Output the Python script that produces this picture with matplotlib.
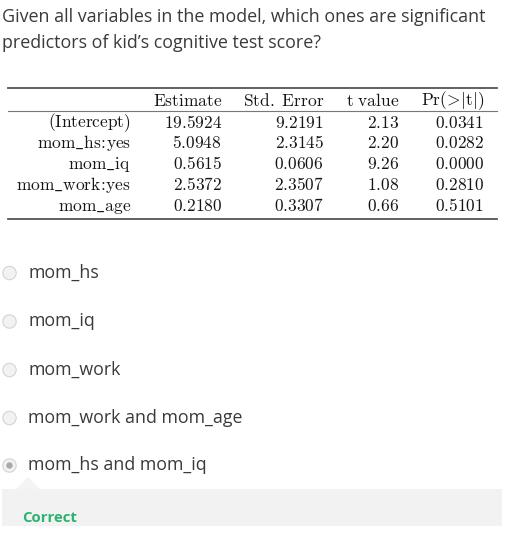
import matplotlib
matplotlib.use("Agg")
import matplotlib.pyplot as plt
import matplotlib.patches as mpatches

question = ["Given all variables in the model, which ones are significant",
            "predictors of kid\u2019s cognitive test score?"]

col_headers = [r"$\mathrm{Estimate}$", r"$\mathrm{Std.\ Error}$",
               r"$\mathrm{t\ value}$", r"$\mathrm{Pr}(\!>\!|\mathrm{t}|)$"]
row_labels = ["(Intercept)", r"mom\_hs\!:\!yes", r"mom\_iq", r"mom\_work\!:\!yes", r"mom\_age"]
estimates = ["19.5924", "5.0948", "0.5615", "2.5372", "0.2180"]
std_errors = ["9.2191", "2.3145", "0.0606", "2.3507", "0.3307"]
t_values = ["2.13", "2.20", "9.26", "1.08", "0.66"]
p_values = ["0.0341", "0.0282", "0.0000", "0.2810", "0.5101"]

options = ["mom_hs", "mom_iq", "mom_work", "mom_work and mom_age", "mom_hs and mom_iq"]
selected = 4
feedback = "Correct"

plt.rcParams["mathtext.fontset"] = "cm"

W, H = 519, 536
fig = plt.figure(figsize=(W / 100, H / 100), dpi=100)
ax = fig.add_axes([0, 0, 1, 1])
ax.set_xlim(0, W)
ax.set_ylim(H, 0)
ax.axis("off")

txt_color = "#3a3a3a"

# question
for i, line in enumerate(question):
    ax.text(2, 17 + i * 26.5, line, family="Open Sans", fontsize=12.9,
            color=txt_color, va="center", ha="left")

# table rules
ax.plot([8, 497], [88, 88], color="#555555", lw=1.3)
ax.plot([8, 497], [111, 111], color="#777777", lw=0.8)
ax.plot([8, 497], [219, 219], color="#555555", lw=1.3)

col_right = [222, 324, 399, 484]
tsize = 12.5
tcol = "#151515"
for x, h in zip(col_right, col_headers):
    ax.text(x, 105.5, h, fontsize=tsize, ha="right", va="baseline", color=tcol)

columns = [estimates, std_errors, t_values, p_values]
for r, lab in enumerate(row_labels):
    y = 127.5 + r * 20.8
    ax.text(131, y, r"$\mathrm{" + lab + "}$", fontsize=tsize, ha="right",
            va="baseline", color=tcol)
    for x, col in zip(col_right, columns):
        ax.text(x, y, r"$\mathrm{" + col[r] + "}$", fontsize=tsize, ha="right",
                va="baseline", color=tcol)

# answer options
opt_y = [273, 321.5, 370, 418, 465.5]
for i, (opt, y) in enumerate(zip(options, opt_y)):
    ax.add_patch(mpatches.Circle((9.5, y), 6.7, facecolor="#f2f2f2",
                                 edgecolor="#d4d4d4", lw=0.8))
    if i == selected:
        ax.add_patch(mpatches.Circle((9.5, y), 3.2, facecolor="#a9a9a9",
                                     edgecolor="none"))
    ax.text(28, y, opt, family="Open Sans", fontsize=12.8, color=txt_color,
            va="center", ha="left")

# feedback box
ax.add_patch(mpatches.Rectangle((2, 489), 500, 37, facecolor="#f2f2f2",
                                edgecolor="none"))
ax.add_patch(mpatches.Polygon([[16, 489], [28, 477], [40, 489]],
                              facecolor="#f4f4f4", edgecolor="none"))
ax.text(22.5, 518, feedback, family="Open Sans", fontweight="bold", fontsize=10.8,
        color="#2db36f", va="center", ha="left")

fig.savefig("out.png", dpi=100)
